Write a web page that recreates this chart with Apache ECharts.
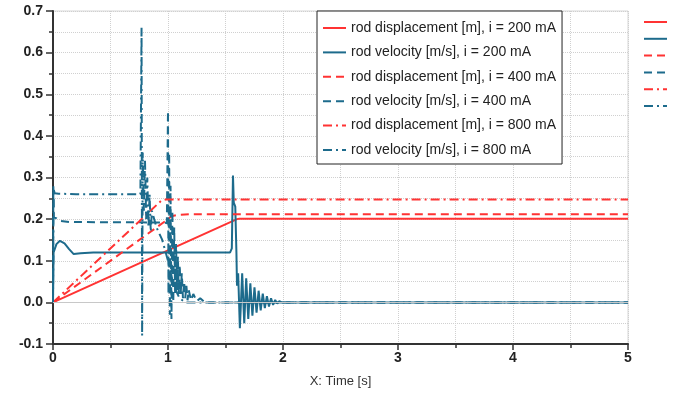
<!DOCTYPE html>
<html>
<head>
<meta charset="utf-8">
<script src="https://cdn.jsdelivr.net/npm/echarts@6/dist/echarts.min.js"></script>
<style>
  html, body { margin: 0; padding: 0; background: #fff; }
  #main { width: 673px; height: 396px; }
</style>
</head>
<body>
<div id="main"></div>
<script>
// series names
const names = [
  "rod displacement [m], i = 200 mA",
  "rod velocity [m/s], i = 200 mA",
  "rod displacement [m], i = 400 mA",
  "rod velocity [m/s], i = 400 mA",
  "rod displacement [m], i = 800 mA",
  "rod velocity [m/s], i = 800 mA"
];

// [time s, value]
const disp200 = [[0, 0], [1.6, 0.2], [1.62, 0.201], [5, 0.201]];
const vel200 = [
  [0, 0], [0.005, 0.12], [0.03, 0.14], [0.06, 0.148], [0.1, 0.142], [0.14, 0.128],
  [0.18, 0.116], [0.24, 0.118], [0.35, 0.12], [1.54, 0.12], [1.555, 0.13],
  [1.565, 0.305], [1.572, 0.24], [1.585, 0.23], [1.595, 0.12], [1.6, 0.04],
  [1.61, 0.07], [1.625, -0.062], [1.645, 0.07], [1.663, -0.05], [1.68, 0.058],
  [1.698, -0.04], [1.716, 0.046], [1.734, -0.032], [1.752, 0.036], [1.77, -0.025],
  [1.788, 0.028], [1.806, -0.019], [1.824, 0.021], [1.842, -0.014], [1.86, 0.015],
  [1.878, -0.01], [1.896, 0.01], [1.914, -0.006], [1.932, 0.006], [1.95, -0.003],
  [1.968, 0.003], [1.99, 0], [5, 0]
];
const disp400 = [[0, 0], [1.0, 0.2], [1.03, 0.207], [1.08, 0.21], [1.2, 0.212], [5, 0.212]];
const vel400 = [
  [0, 0], [0.003, 0.28], [0.008, 0.205], [0.03, 0.202], [0.06, 0.196], [0.15, 0.193],
  [0.97, 0.192], [0.99, 0.19], [1.0, 0.46], [1.004, 0.02], [1.01, 0.36], [1.016, -0.03],
  [1.022, 0.28], [1.03, -0.04], [1.038, 0.22], [1.046, 0.0], [1.054, 0.18], [1.062, 0.02],
  [1.07, 0.14], [1.078, 0.03], [1.086, 0.11], [1.094, 0.02], [1.102, 0.09], [1.11, 0.02],
  [1.12, 0.07], [1.13, 0.01], [1.14, 0.05], [1.15, 0.01], [1.16, 0.04], [1.17, 0.005],
  [1.18, 0.03], [1.2, 0.005], [1.22, 0.02], [1.25, 0.003], [1.28, 0.01], [1.32, 0], [5, 0]
];
const disp800 = [[0, 0], [0.94, 0.244], [0.98, 0.247], [5, 0.247]];
const vel800 = [
  [0, 0], [0.005, 0.272], [0.015, 0.262], [0.05, 0.261], [0.2, 0.26], [0.76, 0.26],
  [0.77, 0.66], [0.775, -0.08], [0.78, 0.36], [0.79, 0.22], [0.8, 0.34], [0.81, 0.2],
  [0.82, 0.3], [0.83, 0.18], [0.84, 0.26], [0.85, 0.17], [0.86, 0.22], [0.9, 0.18],
  [0.95, 0.15], [1.0, 0.1], [1.05, 0.04], [1.1, 0.01], [1.15, 0], [5, 0]
];

const xTicks = { min: 0, max: 5, interval: 1 };
const yTicks = { min: -0.1, max: 0.7, interval: 0.1 };

const red = "#ff3333";
const teal = "#1d6b8c";
const dashed = [8, 5];
const dashDot = [9, 4, 2, 4];

function line(name, data, color, type) {
  return {
    name: name,
    type: "line",
    data: data,
    symbol: "none",
    animation: false,
    lineStyle: { color: color, width: 2, type: type },
    itemStyle: { color: color }
  };
}

const series = [
  line(names[0], disp200, red, "solid"),
  line(names[1], vel200, teal, "solid"),
  line(names[2], disp400, red, dashed),
  line(names[3], vel400, teal, dashed),
  line(names[4], disp800, red, dashDot),
  line(names[5], vel800, teal, dashDot)
];
// solid zero line
series[0].markLine = {
  silent: true,
  symbol: "none",
  label: { show: false },
  lineStyle: { color: "#c8c8c8", width: 1, type: "solid" },
  data: [{ yAxis: 0 }]
};

const chart = echarts.init(document.getElementById("main"));
chart.setOption({
  animation: false,
  grid: {
    left: 53, right: 45, top: 11, bottom: 52,
    show: true, borderColor: "#d6d6d6", borderWidth: 1
  },
  legend: [
    {
      data: names,
      orient: "vertical",
      left: 317, top: 11,
      padding: [10, 6, 7, 5],
      itemWidth: 23, itemHeight: 12, itemGap: 10.4,
      itemStyle: { opacity: 0 },
      backgroundColor: "#fff",
      borderColor: "#222", borderWidth: 1,
      textStyle: { fontFamily: "Liberation Sans", fontSize: 14, color: "#222" }
    },
    {
      data: names,
      orient: "vertical",
      left: 643, top: 16,
      padding: 0,
      itemWidth: 23, itemHeight: 12, itemGap: 6,
      itemStyle: { opacity: 0 },
      formatter: () => "",
      textStyle: { fontSize: 1 }
    }
  ],
  xAxis: {
    type: "value",
    min: xTicks.min, max: xTicks.max, interval: xTicks.interval,
    name: "X: Time [s]",
    nameLocation: "middle",
    nameGap: 31,
    nameTextStyle: { fontFamily: "Liberation Sans", fontSize: 13, color: "#333" },
    axisLine: { onZero: false, lineStyle: { color: "#333", width: 2 } },
    axisTick: { length: 6, lineStyle: { color: "#333", width: 1.5 } },
    minorTick: { show: true, splitNumber: 2, length: 4, lineStyle: { color: "#333", width: 1.5 } },
    axisLabel: { fontFamily: "Liberation Sans", fontSize: 14, fontWeight: "bold", color: "#222", margin: 7 },
    splitLine: { lineStyle: { color: "#d0d0d0", type: "dotted" } },
    minorSplitLine: { show: true, lineStyle: { color: "#d0d0d0", type: "dotted" } }
  },
  yAxis: {
    type: "value",
    min: yTicks.min, max: yTicks.max, interval: yTicks.interval,
    axisLine: { show: true, onZero: false, lineStyle: { color: "#333", width: 2 } },
    axisTick: { show: true, length: 7, lineStyle: { color: "#333", width: 1.5 } },
    minorTick: { show: true, splitNumber: 2, length: 4, lineStyle: { color: "#333", width: 1.5 } },
    axisLabel: {
      fontFamily: "Liberation Sans", fontSize: 14, fontWeight: "bold", color: "#222", margin: 10,
      formatter: v => v.toFixed(1)
    },
    splitLine: { lineStyle: { color: "#d0d0d0", type: "dotted" } },
    minorSplitLine: { show: true, lineStyle: { color: "#d0d0d0", type: "dotted" } }
  },
  series: series
});
</script>
</body>
</html>
